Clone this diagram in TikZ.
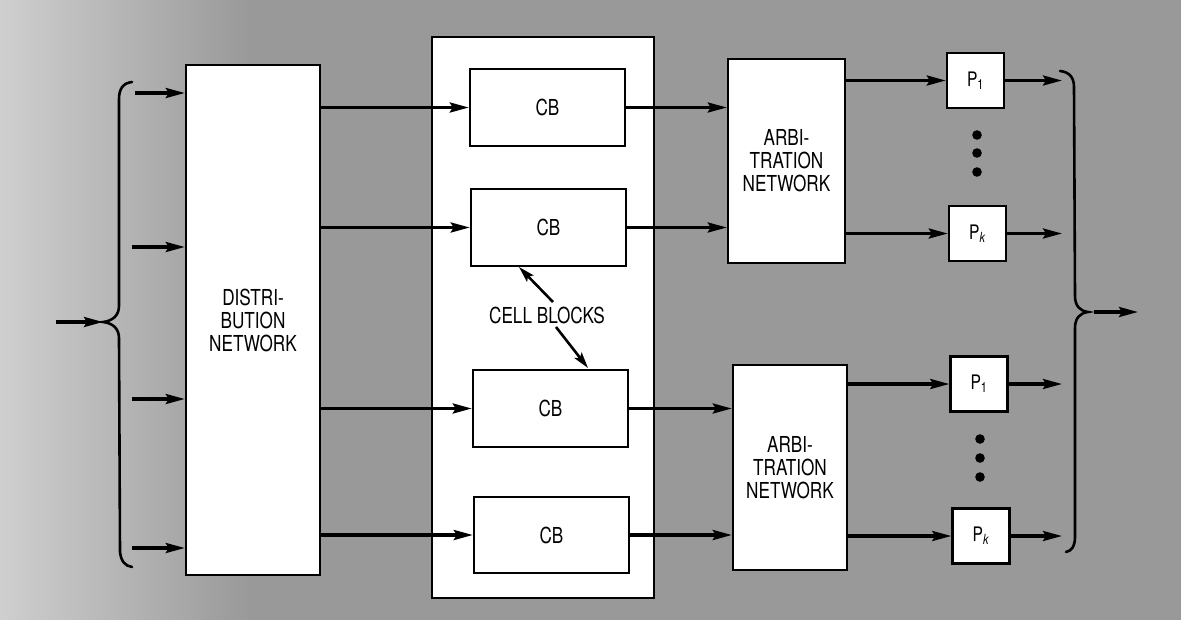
\documentclass[tikz,border=0pt]{standalone}
\usepackage{fontspec}
\setmainfont[FakeStretch=0.78]{TeX Gyre Heros}
\usetikzlibrary{arrows.meta,calc}
\newcommand\dfont{\fontsize{22}{23}\selectfont}
\newcommand\pfont{\fontsize{20}{22}\selectfont}
\begin{document}
\begin{tikzpicture}[x=1pt,y=-1pt,
  box/.style={draw, line width=2.4pt, fill=white, inner sep=0pt, font=\dfont, align=center},
  pbox/.style={box, minimum width=57pt, minimum height=55pt, font=\pfont},
  cbbox/.style={box, minimum width=155pt, minimum height=77pt},
  arr/.style={line width=3.2pt, -{Stealth[length=19pt,width=10pt,inset=3pt]}},
  brace/.style={line width=2.6pt, line cap=round}]
% background
\useasboundingbox (0,0) rectangle (1181,619);
\fill[black!40] (-10,-10) rectangle (1191,629);
\shade[left color=black!18, right color=black!40] (-10,-10) rectangle (250,629);
% container
\node[box, minimum width=222pt, minimum height=561pt] (cont) at (543,317.5) {};
% distribution network
\node[box, minimum width=134pt, minimum height=510pt] (dist) at (253,320) {DISTRI-\\BUTION\\NETWORK};
% cell blocks
\node[cbbox] (cb1) at (547.5,107.5) {CB};
\node[cbbox] (cb2) at (548.5,227.5) {CB};
\node[cbbox] (cb3) at (550.5,408.5) {CB};
\node[cbbox, minimum height=76pt] (cb4) at (551.5,535) {CB};
\node[font=\dfont, inner sep=1pt] (cbl) at (547,315) {CELL BLOCKS};
% arbitration networks
\node[box, minimum width=117pt, minimum height=204pt] (arb1) at (786.5,161) {ARBI-\\TRATION\\NETWORK};
\node[box, minimum width=114pt, minimum height=205pt] (arb2) at (790,467.5) {ARBI-\\TRATION\\NETWORK};
% processors
\node[pbox] (p1a) at (975.5,80.5) {P\textsubscript{1}};
\node[pbox] (pka) at (977.5,233.5) {P\textsubscript{\textit{k}}};
\node[pbox] (p1b) at (979,384) {P\textsubscript{1}};
\node[pbox] (pkb) at (981,536) {P\textsubscript{\textit{k}}};
% dots
\foreach \yy in {135,153,172} \fill (977,\yy) circle (4.8);
\foreach \yy in {439,458,477} \fill (980,\yy) circle (4.8);
% left brace and input
\draw[brace] (132,82) .. controls (123,83) and (119,89) .. (119,99) -- (119,306)
  .. controls (119,316) and (112,321) .. (103,322)
  .. controls (112,323) and (119,328) .. (119,338) -- (120,552)
  .. controls (121,561) and (125,566) .. (132,567);
\coordinate (lin) at (56,322);
\coordinate (ltip) at (103,322);
\draw[arr] (lin) -- (ltip);
\coordinate (i1) at (135,93);
\coordinate (i2) at (132,247);
\coordinate (i3) at (132,399);
\coordinate (i4) at (132,548);
\foreach \c in {i1,i2,i3,i4} \draw[arr] (\c) -- (\c -| dist.west);
% distribution -> cell blocks
\foreach \c in {cb1,cb2,cb3,cb4} \draw[arr] (\c.west -| dist.east) -- (\c.west);
% cell blocks -> arbitration
\draw[arr] (cb1.east) -- (cb1.east -| arb1.west);
\draw[arr] (cb2.east) -- (cb2.east -| arb1.west);
\draw[arr] (cb3.east) -- (cb3.east -| arb2.west);
\draw[arr] (cb4.east) -- (cb4.east -| arb2.west);
% arbitration -> processors
\draw[arr] (p1a.west -| arb1.east) -- (p1a.west);
\draw[arr] (pka.west -| arb1.east) -- (pka.west);
\draw[arr] (p1b.west -| arb2.east) -- (p1b.west);
\draw[arr] (pkb.west -| arb2.east) -- (pkb.west);
% processors out
\coordinate (oend) at (1062,0);
\foreach \c in {p1a,pka,p1b,pkb} \draw[arr] (\c.east) -- (\c.east -| oend);
% right brace and output
\draw[brace] (1060,71) .. controls (1069,72) and (1074,77) .. (1074,87) -- (1075,296)
  .. controls (1075,306) and (1080,311) .. (1088,312)
  .. controls (1080,313) and (1075,318) .. (1075,328) -- (1075,537)
  .. controls (1075,547) and (1071,551) .. (1066,552);
\coordinate (os) at (1094,312);
\coordinate (oe) at (1138,312);
\draw[arr] (os) -- (oe);
% cell blocks pointers
\coordinate (s1) at (553,302);
\coordinate (e1) at (519,267);
\coordinate (s2) at (556,327);
\coordinate (e2) at (588,368);
\draw[line width=2.6pt, -{Stealth[length=16pt,width=9pt,inset=3pt]}] (s1) -- (e1);
\draw[line width=2.6pt, -{Stealth[length=16pt,width=9pt,inset=3pt]}] (s2) -- (e2);
\end{tikzpicture}
\end{document}
